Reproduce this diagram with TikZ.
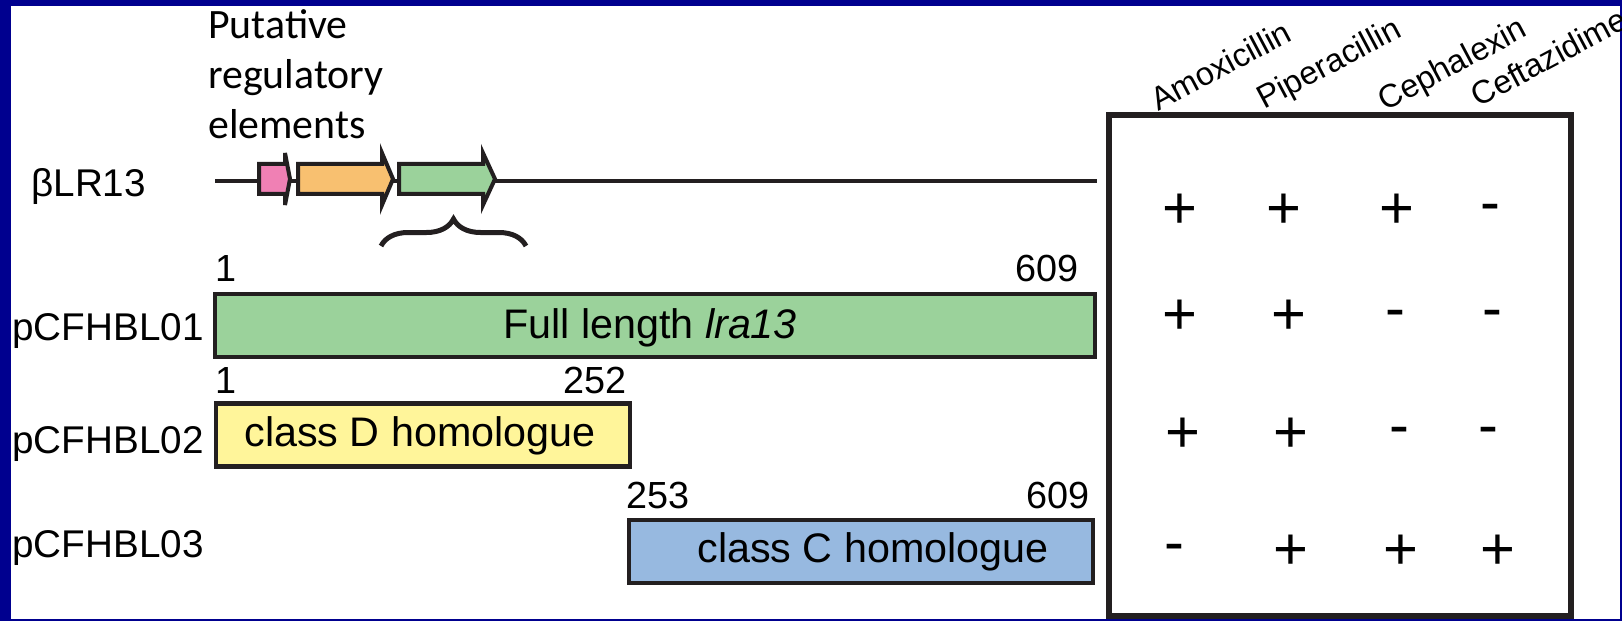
\documentclass[tikz,border=0pt]{standalone}
\usepackage{fontspec}
\setmainfont{Liberation Sans}
\newfontfamily\calibri{Carlito}
\usetikzlibrary{decorations.pathreplacing}
\definecolor{frameblue}{RGB}{0,0,143}
\definecolor{ink}{RGB}{35,31,32}
\definecolor{lragreen}{RGB}{155,210,155}
\definecolor{classd}{RGB}{255,245,154}
\definecolor{classc}{RGB}{151,185,224}
\definecolor{orfpink}{RGB}{240,128,180}
\definecolor{orforange}{RGB}{248,192,112}
\tikzset{
  bar/.style={draw=ink, line width=0.09cm, minimum height=1.26cm, inner sep=0pt},
  orf/.style={draw=ink, line width=0.08cm, line join=miter},
  plasmid/.style={anchor=base west, inner sep=0pt, font=\fontsize{22}{26}\selectfont},
  boxtext/.style={anchor=base, inner sep=0pt, font=\fontsize{23.5}{28}\selectfont},
  resnum/.style={inner sep=0pt, font=\fontsize{21.5}{25}\selectfont},
  drug/.style={anchor=base west, rotate=28, inner sep=0pt, font=\fontsize{18.5}{22}\selectfont},
  sign/.style={anchor=base, inner sep=0pt, font=\fontsize{34}{40}\selectfont},
  neg/.style={sign, yshift=0.13cm},
}

\begin{document}
\begin{tikzpicture}[x=0.02cm, y=-0.02cm]
  \useasboundingbox (0,0) rectangle (1622,621);
  \fill[frameblue] (0,0) rectangle (1622,621);
  \fill[white] (11,6) rectangle (1620,619);

  % locus with the putative regulatory elements
  \node[anchor=north west, inner sep=0pt, align=left,
        font=\calibri\fontsize{23.8}{28.6}\selectfont] (reg) at (208,9)
        {Putative\\regulatory\\elements};
  \node[plasmid] (blr) at (31,197) {βLR13};
  \draw[ink, line width=0.08cm] (215,181) -- (1097,181);
  \draw[orf, fill=orfpink] (259,164) -- (285,164) -- (285,153) -- (290,179)
        -- (285,205) -- (285,194) -- (259,194) -- cycle;
  \draw[orf, fill=orforange] (298,164) -- (382,164) -- (382,153) -- (393,179)
        -- (382,205) -- (382,194) -- (298,194) -- cycle;
  \draw[orf, fill=lragreen] (399,164) -- (483,164) -- (483,153) -- (495,179)
        -- (483,205) -- (483,194) -- (399,194) -- cycle;
  \draw[ink, line width=0.1cm, decorate, decoration={brace, amplitude=0.54cm}]
        (381,246) -- (526,246);

  % constructs
  \node[plasmid] (p01) at (12,340) {pCFHBL01};
  \node[plasmid] (p02) at (12,453) {pCFHBL02};
  \node[plasmid] (p03) at (12,557) {pCFHBL03};

  \node[bar, fill=lragreen, minimum width=17.6cm] (full) at (655,325.5) {};
  \node[bar, fill=classd, minimum width=8.28cm] (cld) at (423,435) {};
  \node[bar, fill=classc, minimum width=9.28cm] (clc) at (861,551.5) {};
  \node[boxtext] (fulltxt) at (650,338) {Full length \textit{lra13}};
  \node[boxtext] (cldtxt) at (420,446) {class D homologue};
  \node[boxtext] (clctxt) at (873,562) {class C homologue};

  \node[resnum, anchor=base west] (s1) at (215,282) {1};
  \node[resnum, anchor=base east] (e1) at (1079,282) {609};
  \node[resnum, anchor=base west] (s2) at (215,393) {1};
  \node[resnum, anchor=base east] (e2) at (627,393) {252};
  \node[resnum, anchor=base west] (s3) at (626,508) {253};
  \node[resnum, anchor=base east] (e3) at (1090,508) {609};

  % susceptibility table
  \draw[ink, line width=0.13cm] (1109,115) rectangle (1571,616);
  \node[drug] (amox) at (1158,112) {Amoxicillin};
  \node[drug] (pip) at (1264,110) {Piperacillin};
  \node[drug] (ceph) at (1385,112) {Cephalexin};
  \node[drug] (ceft) at (1478,108) {Ceftazidime};

  \node[sign] (am1) at (1180,229) {+};
  \node[sign] (pi1) at (1284,229) {+};
  \node[sign] (ce1) at (1397,229) {+};
  \node[neg]  (cz1) at (1490,229) {-};
  \node[sign] (am2) at (1180,335) {+};
  \node[sign] (pi2) at (1289,335) {+};
  \node[neg]  (ce2) at (1395,335) {-};
  \node[neg]  (cz2) at (1492,335) {-};
  \node[sign] (am3) at (1183,452) {+};
  \node[sign] (pi3) at (1291,452) {+};
  \node[neg]  (ce3) at (1399,452) {-};
  \node[neg]  (cz3) at (1488,452) {-};
  \node[neg]  (am4) at (1174,569) {-};
  \node[sign] (pi4) at (1291,569) {+};
  \node[sign] (ce4) at (1401,569) {+};
  \node[sign] (cz4) at (1498,569) {+};
\end{tikzpicture}
\end{document}
